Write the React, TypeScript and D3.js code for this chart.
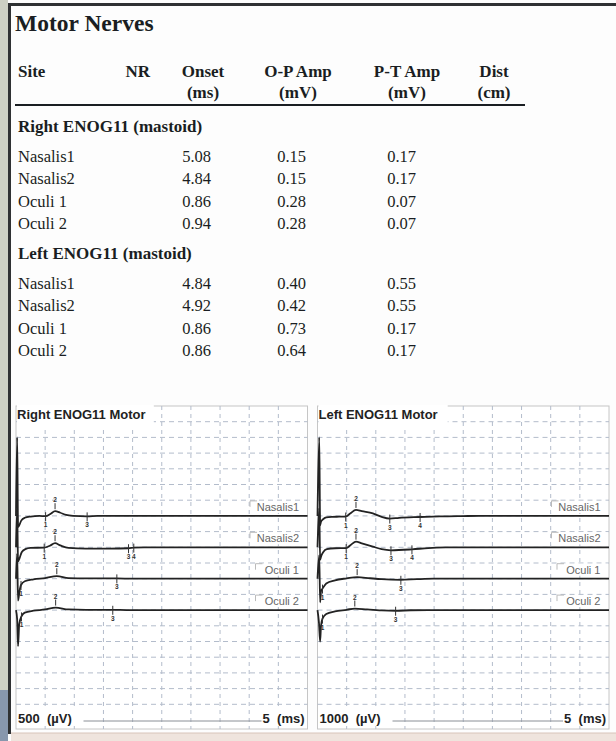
import React from 'react';
import * as d3 from 'd3';

// table data
const headers = ['Site', 'NR', 'Onset', 'O-P Amp', 'P-T Amp', 'Dist'];
const units = ['', '', '(ms)', '(mV)', '(mV)', '(cm)'];
const groups = ['Right ENOG11 (mastoid)', 'Left ENOG11 (mastoid)'];
const sites = ['Nasalis1', 'Nasalis2', 'Oculi 1', 'Oculi 2'];
const onsetMs = [[5.08, 4.84, 0.86, 0.94], [4.84, 4.92, 0.86, 0.86]];
const opAmp = [[0.15, 0.15, 0.28, 0.28], [0.40, 0.42, 0.73, 0.64]];
const ptAmp = [[0.17, 0.17, 0.07, 0.07], [0.55, 0.55, 0.17, 0.17]];

// waveform panels
const panelTitles = ['Right ENOG11 Motor', 'Left ENOG11 Motor'];
const sensitivity = [500, 1000]; // uV per division
const msPerDiv = 5;

// traces as [ms, uV]
const rightNasalis1 = [[0, 0], [0.2, 2500], [0.35, -350], [0.55, -300], [0.9, -150], [1.5, -60], [2.5, -20], [4, 0], [5.08, -10], [5.9, 60], [6.7, 150], [7.6, 100], [8.6, 30], [9.8, 0], [12.2, -15], [14, 0], [50, 0]];
const rightNasalis2 = [[0, 0], [0.2, 1200], [0.35, -450], [0.6, -350], [1.0, -150], [1.6, -60], [2.5, -20], [4.84, -10], [5.8, 50], [6.7, 130], [7.6, 60], [9, -20], [12, -40], [16, -40], [19.3, -30], [20.2, -10], [22, 0], [50, 0]];
const rightOculi1 = [[0, 0], [0.2, 800], [0.35, -700], [0.6, -400], [0.86, -200], [1.5, -80], [3, -20], [5, 20], [7, 80], [9, 20], [12, 10], [17.3, 10], [20, 0], [50, 0]];
const rightOculi2 = [[0, 0], [0.2, -300], [0.35, -1150], [0.55, -450], [0.94, -200], [1.5, -80], [3, -20], [5, 20], [6.8, 80], [9, 20], [12, 10], [16.6, 10], [19, 0], [50, 0]];

const leftNasalis1 = [[0, 0], [0.3, 5000], [0.45, -600], [0.6, -370], [1.0, -200], [1.5, -90], [2.5, -60], [3.7, -50], [4.84, -40], [5.6, 150], [6.6, 380], [7.6, 300], [9.5, 160], [11, -60], [12.4, -170], [14, -120], [17.6, -70], [21, -30], [25, -10], [28, 0], [50, 0]];
const leftNasalis2 = [[0, 0], [0.3, 2500], [0.45, -800], [0.6, -600], [1.0, -300], [1.6, -120], [3, -60], [4.92, -50], [5.7, 150], [6.6, 360], [7.6, 250], [9.5, 40], [11, -120], [12.6, -190], [16.2, -130], [19, -50], [22, -10], [25, 0], [50, 0]];
const leftOculi1 = [[0, 0], [0.3, 1500], [0.45, -1500], [0.6, -800], [0.86, -630], [1.5, -300], [3, -100], [5, 20], [6.8, 100], [9, 30], [11, -30], [14.3, -70], [17, -30], [20, 0], [50, 0]];
const leftOculi2 = [[0, 0], [0.25, -800], [0.45, -2000], [0.6, -1000], [0.86, -540], [1.5, -250], [3, -80], [5, 20], [6.4, 100], [8.5, 40], [11, -20], [13.4, -40], [16, -10], [19, 0], [50, 0]];

const panelTraces = [
  [rightNasalis1, rightNasalis2, rightOculi1, rightOculi2],
  [leftNasalis1, leftNasalis2, leftOculi1, leftOculi2],
];

// cursor markers (ms); 2nd one is the peak
const panelMarkers = [
  [[5.08, 6.7, 12.2], [4.84, 6.7, 19.3, 20.2], [0.86, 7.0, 17.3], [0.94, 6.8, 16.6]],
  [[4.84, 6.6, 12.4, 17.6], [4.92, 6.6, 12.6, 16.2], [0.86, 6.8, 14.3], [0.86, 6.4, 13.4]],
];

const SERIF = "'Liberation Serif', 'Times New Roman', serif";
const SANS = "'Liberation Sans', Arial, sans-serif";
const INK = '#1a1e22';

const W = 616;
const H = 741;
const PANEL_TOP = 406;
const DIV_X = 29.15;
const DIV_Y = 15.7;
const N_X = 10;
const N_Y = 20;
const PANEL_BOTTOM = 729;
const baseDivs = [7, 9, 11, 13];
const gridColor = '#b3bccb';

const fmt = d3.format('.2f');

const Table = () => {
  const headerX = [18, 150, 203, 298, 407, 494];
  const anchors = ['start', 'end', 'middle', 'middle', 'middle', 'middle'];
  const valueX = [211, 306, 416];
  const groupY = [132, 259];
  const rowY = d3.scaleLinear().domain([0, 1]).range([0, 22.3]);
  return (
    <g fill={INK}>
      <text x={15} y={31} fontFamily={SERIF} fontWeight="bold" fontSize={23.5}>Motor Nerves</text>
      {headers.map((h, i) => (
        <g key={h} fontFamily={SERIF} fontWeight="bold" fontSize={17} textAnchor={anchors[i]}>
          <text x={headerX[i]} y={77}>{h}</text>
          {units[i] && <text x={headerX[i]} y={98}>{units[i]}</text>}
        </g>
      ))}
      <line x1={15} x2={525} y1={105} y2={105} stroke={INK} strokeWidth={2} />
      {groups.map((g, gi) => (
        <g key={g} fontFamily={SERIF}>
          <text x={18} y={groupY[gi]} fontWeight="bold" fontSize={17}>{g}</text>
          {sites.map((s, i) => {
            const y = groupY[gi] + 30 + rowY(i);
            return (
              <g key={s} fontSize={16.5}>
                <text x={18} y={y}>{s}</text>
                <text x={valueX[0]} y={y} textAnchor="end">{fmt(onsetMs[gi][i])}</text>
                <text x={valueX[1]} y={y} textAnchor="end">{fmt(opAmp[gi][i])}</text>
                <text x={valueX[2]} y={y} textAnchor="end">{fmt(ptAmp[gi][i])}</text>
              </g>
            );
          })}
        </g>
      ))}
    </g>
  );
};

const Panel = ({ idx, x0 }: { idx: number; x0: number }) => {
  const uv = sensitivity[idx];
  const x = d3.scaleLinear().domain([0, msPerDiv * N_X]).range([x0, x0 + DIV_X * N_X]);
  const right = x(msPerDiv * N_X);
  const title = panelTitles[idx];
  const titleW = title.length * 7.6;
  const vLines = d3.range(1, N_X).map(i => x(i * msPerDiv));
  const hLines = d3.range(1, N_Y).map(i => PANEL_TOP + i * DIV_Y);
  const scaleTxt = `${uv}  (\u00b5V)`;
  const scaleW = String(uv).length * 7.5 + 35;

  return (
    <g>
      <rect x={x0} y={PANEL_TOP} width={right - x0} height={PANEL_BOTTOM - PANEL_TOP} fill="#fff" stroke="#c6c6c6" />
      <g stroke={gridColor} strokeWidth={1}>
        {vLines.map((vx, i) => (
          <line key={'v' + i} x1={vx} x2={vx} y1={PANEL_TOP} y2={PANEL_BOTTOM} strokeDasharray="4,4" />
        ))}
        {hLines.map((hy, i) => (
          <line key={'h' + i} x1={x0} x2={right} y1={hy} y2={hy} strokeDasharray="5,4" />
        ))}
      </g>
      {/* title box */}
      <rect x={x0 + 1} y={PANEL_TOP - 1} width={titleW} height={23} fill="#fff" />
      <text x={x0 + 1} y={419} fontFamily={SANS} fontWeight="bold" fontSize={13} fill="#222">{title}</text>

      {panelTraces[idx].map((tr, ti) => {
        const base = PANEL_TOP + baseDivs[ti] * DIV_Y;
        const y = d3.scaleLinear().domain([0, uv]).range([base, base - DIV_Y]);
        const line = d3.line<number[]>().x(d => x(d[0])).y(d => y(d[1])).curve(d3.curveMonotoneX);
        const interp = (t: number) => {
          const i = d3.bisector((d: number[]) => d[0]).left(tr, t);
          if (i <= 0) return tr[0][1];
          const a = tr[i - 1], b = tr[i];
          return a[1] + (b[1] - a[1]) * (t - a[0]) / (b[0] - a[0]);
        };
        const label = sites[ti];
        const lw = label.length * 5.5 + 2;
        const lx = x0 + 283;
        return (
          <g key={ti}>
            <rect x={lx - lw - 3} y={base - 15} width={right - (lx - lw - 3) - 1} height={12} fill="#fff" />
            <path d={`M${lx - lw - 3},${base - 9}V${base - 15}H${lx - lw + 4}`} fill="none" stroke="#bbb" />
            <text x={lx} y={base - 5} textAnchor="end" fontFamily={SANS} fontSize={11} fill="#666">{label}</text>
            <path d={line(tr as number[][]) || ''} fill="none" stroke="#222" strokeWidth={1.8} />
            {panelMarkers[idx][ti].map((t, mi) => {
              const mx = x(t);
              const my = y(interp(t));
              const up = mi === 1;
              return (
                <g key={mi} stroke="#333" fill="#333" fontFamily={SANS} fontSize={6.5} fontWeight="bold" textAnchor="middle">
                  {up ? (
                    <>
                      <line x1={mx} x2={mx} y1={my - 2} y2={my - 8} />
                      <text x={mx} y={my - 9} stroke="none">{mi + 1}</text>
                    </>
                  ) : (
                    <>
                      <line x1={mx} x2={mx} y1={my - 4} y2={my + 5} />
                      <text x={mx} y={my + 11} stroke="none">{mi + 1}</text>
                    </>
                  )}
                </g>
              );
            })}
          </g>
        );
      })}

      {/* sensitivity / sweep scale */}
      <rect x={x0 + 1} y={710} width={scaleW + 4} height={16} fill="#fff" />
      <rect x={right - 46} y={710} width={45} height={16} fill="#fff" />
      <text x={x0 + 2} y={723} fontFamily={SANS} fontWeight="bold" fontSize={13} fill="#222" style={{ whiteSpace: 'pre' }}>{scaleTxt}</text>
      <line x1={x0 + scaleW + 10} x2={right - 46} y1={721} y2={721} stroke="#8a8f96" />
      <text x={right - 3} y={723} textAnchor="end" fontFamily={SANS} fontWeight="bold" fontSize={13} fill="#222" style={{ whiteSpace: 'pre' }}>{`${msPerDiv}  (ms)`}</text>
    </g>
  );
};

export default function App() {
  return (
    <svg width={W} height={H} viewBox={`0 0 ${W} ${H}`} style={{ position: 'absolute', left: 0, top: 0, background: '#fdfdfd' }}>
      {/* screen frame */}
      <rect x={0} y={0} width={W} height={H} fill="#fdfdfd" />
      <rect x={0} y={0} width={8} height={H} fill="#cdd0c4" />
      <rect x={0} y={690} width={8} height={51} fill="#8797ad" />
      <rect x={8} y={4} width={3} height={730} fill="#2f3133" />
      <rect x={8} y={3} width={W - 8} height={3} fill="#2f3133" />
      <rect x={11} y={733} width={W - 11} height={8} fill="#efe4dd" />
      <line x1={11} x2={W} y1={733} y2={733} stroke="#d8c4ba" />
      <Table />
      <Panel idx={0} x0={16} />
      <Panel idx={1} x0={317.5} />
    </svg>
  );
}
